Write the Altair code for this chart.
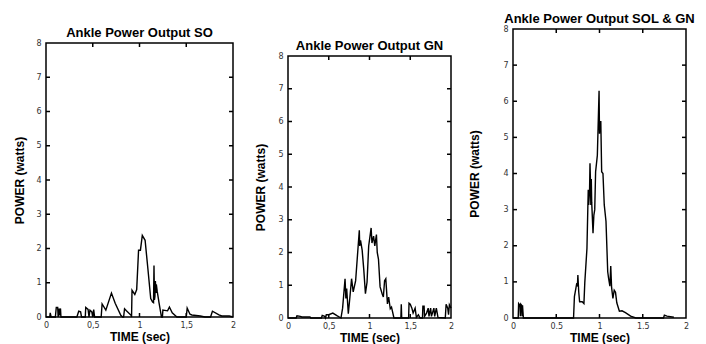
import altair as alt
import pandas as pd

# ---------------- data ----------------
SO_T = [0.00, 0.04, 0.045, 0.055, 0.10, 0.11, 0.125, 0.13, 0.14, 0.145, 0.155, 0.16,
        0.33, 0.35, 0.37, 0.38, 0.42, 0.425, 0.45, 0.46, 0.47, 0.49, 0.50, 0.51, 0.52,
        0.59, 0.60, 0.64, 0.70, 0.74, 0.80, 0.82, 0.83, 0.84, 0.86, 0.91, 0.915, 0.92,
        0.95, 0.97, 0.99, 1.01, 1.03, 1.06, 1.09, 1.12, 1.14, 1.15, 1.155, 1.16, 1.165,
        1.17, 1.175, 1.18, 1.19, 1.21, 1.235, 1.245, 1.25, 1.30, 1.32, 1.35, 1.40, 1.50,
        1.51, 1.54, 1.56, 1.65, 1.70, 1.76, 1.78, 1.85, 1.88, 1.96, 2.00]
SO_V = [0.0, 0.0, 0.12, 0.0, 0.0, 0.28, 0.28, 0.0, 0.25, 0.05, 0.25, 0.0,
        0.0, 0.17, 0.15, 0.0, 0.0, 0.28, 0.22, 0.0, 0.2, 0.15, 0.0, 0.22, 0.0,
        0.0, 0.38, 0.2, 0.7, 0.4, 0.05, 0.0, 0.0, 0.24, 0.18, 0.05, 0.0, 0.78,
        0.66, 0.8, 1.95, 1.95, 2.38, 2.24, 1.4, 0.54, 0.44, 0.42, 1.5, 0.5, 0.6,
        1.05, 0.7, 0.95, 0.74, 0.4, 0.0, 0.0, 0.2, 0.18, 0.29, 0.12, 0.0, 0.0,
        0.26, 0.08, 0.06, 0.03, 0.0, 0.0, 0.17, 0.06, 0.03, 0.03, 0.0]

GN_T = [0.0, 0.10, 0.11, 0.15, 0.17, 0.27, 0.28, 0.41, 0.42, 0.45, 0.46, 0.47, 0.50,
        0.55, 0.60, 0.65, 0.67, 0.70, 0.71, 0.72, 0.74, 0.76, 0.78, 0.80, 0.83, 0.86,
        0.875, 0.88, 0.89, 0.91, 0.93, 0.95, 0.97, 0.99, 1.02, 1.03, 1.05, 1.065, 1.085,
        1.095, 1.11, 1.13, 1.155, 1.17, 1.185, 1.20, 1.22, 1.235, 1.255, 1.27, 1.30,
        1.385, 1.39, 1.395, 1.48, 1.485, 1.50, 1.52, 1.535, 1.56, 1.575, 1.60, 1.62,
        1.65, 1.655, 1.67, 1.675, 1.70, 1.72, 1.73, 1.75, 1.76, 1.79, 1.80, 1.82, 1.84,
        1.93, 1.94, 1.96, 1.97, 1.98, 2.0]
GN_V = [0.0, 0.0, 0.07, 0.05, 0.03, 0.03, 0.0, 0.0, 0.08, 0.05, 0.0, 0.1, 0.1,
        0.15, 0.07, 0.0, 0.3, 1.2, 0.6, 0.9, 0.13, 0.65, 1.2, 0.8, 1.14, 2.17,
        2.68, 2.2, 2.37, 2.07, 1.47, 0.74, 1.1, 2.2, 2.75, 2.29, 2.5, 2.2, 2.55,
        2.0, 1.8, 0.95, 0.74, 0.64, 1.14, 1.2, 0.43, 0.64, 0.28, 0.33, 0.0,
        0.0, 0.42, 0.0, 0.0, 0.45, 0.42, 0.3, 0.15, 0.3, 0.02, 0.1, 0.0,
        0.0, 0.36, 0.36, 0.05, 0.15, 0.3, 0.05, 0.3, 0.05, 0.3, 0.05, 0.3, 0.02,
        0.0, 0.42, 0.3, 0.1, 0.4, 0.3]

SG_T = [0.0, 0.06, 0.065, 0.08, 0.085, 0.09, 0.10, 0.105, 0.11, 0.12, 0.70, 0.71,
        0.735, 0.745, 0.75, 0.76, 0.77, 0.80, 0.82, 0.83, 0.855, 0.865, 0.87, 0.875,
        0.885, 0.89, 0.895, 0.90, 0.905, 0.91, 0.925, 0.935, 0.945, 0.955, 0.975,
        0.995, 1.0, 1.005, 1.01, 1.015, 1.025, 1.04, 1.055, 1.075, 1.095, 1.105,
        1.12, 1.13, 1.14, 1.155, 1.17, 1.185, 1.20, 1.23, 1.26, 1.30, 1.36, 1.42,
        1.74, 1.75, 1.78, 1.86]
SG_V = [0.0, 0.0, 0.4, 0.35, 0.05, 0.38, 0.35, 0.05, 0.35, 0.0, 0.0, 0.59,
        0.93, 0.9, 1.19, 0.72, 0.45, 0.45, 0.4, 0.98, 1.93, 3.04, 3.55, 3.13,
        3.5, 4.28, 3.85, 3.13, 3.85, 3.2, 2.35, 2.85, 3.0, 4.05, 4.5,
        6.29, 5.1, 5.45, 5.2, 5.45, 4.05, 4.0, 3.13, 2.68, 1.28, 1.1,
        0.88, 1.44, 0.84, 0.54, 0.77, 0.71, 0.42, 0.19, 0.2, 0.15, 0.05, 0.0,
        0.0, 0.08, 0.05, 0.02]

X_TICKS = [0, 0.5, 1, 1.5, 2]
Y_TICKS = [0, 1, 2, 3, 4, 5, 6, 7, 8]
INNER_X = [0.5, 1, 1.5]
INNER_Y = [1, 2, 3, 4, 5, 6, 7]

TITLE_FONT = "Liberation Sans"
LABEL_FONT = "DejaVu Sans"


def panel(t, v, title, w, h, comma, tpad):
    xs = alt.Scale(domain=[0, 2], nice=False, zero=False)
    ys = alt.Scale(domain=[0, 8], nice=False)
    df = pd.DataFrame({"t": t, "v": v, "i": list(range(len(t)))})
    lexpr = "replace('' + datum.value, '.', ',')" if comma else "'' + datum.value"
    common = dict(grid=False, domain=False, ticks=False, labelFlush=False,
                  labelFontSize=8, labelColor="#333", labelFont=LABEL_FONT,
                  titleFont=TITLE_FONT, titleFontSize=12, titleFontWeight="bold",
                  titleColor="black")
    xaxis = alt.Axis(values=X_TICKS, title="TIME (sec)", labelExpr=lexpr,
                     labelPadding=4, titlePadding=2, **common)
    yaxis = alt.Axis(values=Y_TICKS, title="POWER (watts)", format="d",
                     labelPadding=5, titlePadding=tpad, **common)
    X = lambda: alt.X("t:Q", scale=xs, axis=xaxis)
    Y = lambda: alt.Y("v:Q", scale=ys, axis=yaxis)
    line = alt.Chart(df).mark_line(color="black", strokeWidth=1.4).encode(
        x=X(), y=Y(), order="i:Q",
    )
    ydf = pd.DataFrame({"v": INNER_Y})
    xdf = pd.DataFrame({"t": INNER_X})
    rule = dict(color="black", strokeWidth=1.5)
    yl = alt.Chart(ydf).mark_rule(**rule).encode(
        y=Y(), x=alt.value(0), x2=alt.value(4))
    yr = alt.Chart(ydf).mark_rule(**rule).encode(
        y=Y(), x=alt.value(w - 4), x2=alt.value(w))
    xb = alt.Chart(xdf).mark_rule(**rule).encode(
        x=X(), y=alt.value(h - 4), y2=alt.value(h))
    xt = alt.Chart(xdf).mark_rule(**rule).encode(
        x=X(), y=alt.value(0), y2=alt.value(4))
    return alt.layer(line, yl, yr, xb, xt).properties(
        width=w, height=h,
        title=alt.TitleParams(title, fontSize=13, font=TITLE_FONT, fontWeight="bold",
                              offset=-1, anchor="middle", color="black"),
    )


def spacer(w, h):
    return alt.Chart(pd.DataFrame({"a": [0]})).mark_point(size=1, opacity=0).encode(
        x=alt.value(0), y=alt.value(0)
    ).properties(width=w, height=h, view=alt.ViewBackground(stroke="transparent"))


p1 = panel(SO_T, SO_V, "Ankle Power Output SO", 187, 274, True, 9)
p2 = panel(GN_T, GN_V, "Ankle Power Output GN", 163, 262, True, 10.5)
p3 = panel(SG_T, SG_V, "Ankle Power Output SOL & GN", 173, 289, False, 21.5)

chart = alt.hconcat(
    alt.vconcat(spacer(1, 15), p1, spacing=0),
    spacer(13, 1),
    alt.vconcat(spacer(1, 28), p2, spacing=0),
    spacer(9, 1),
    alt.vconcat(spacer(1, 1), p3, spacing=0),
    spacing=0,
).properties(
    padding={"left": 5, "top": 0, "right": 0, "bottom": 0}
).configure_concat(spacing=0).configure_view(stroke="black", strokeWidth=1.5)

chart.save("out.html", embed_options={"renderer": "svg", "actions": False})
